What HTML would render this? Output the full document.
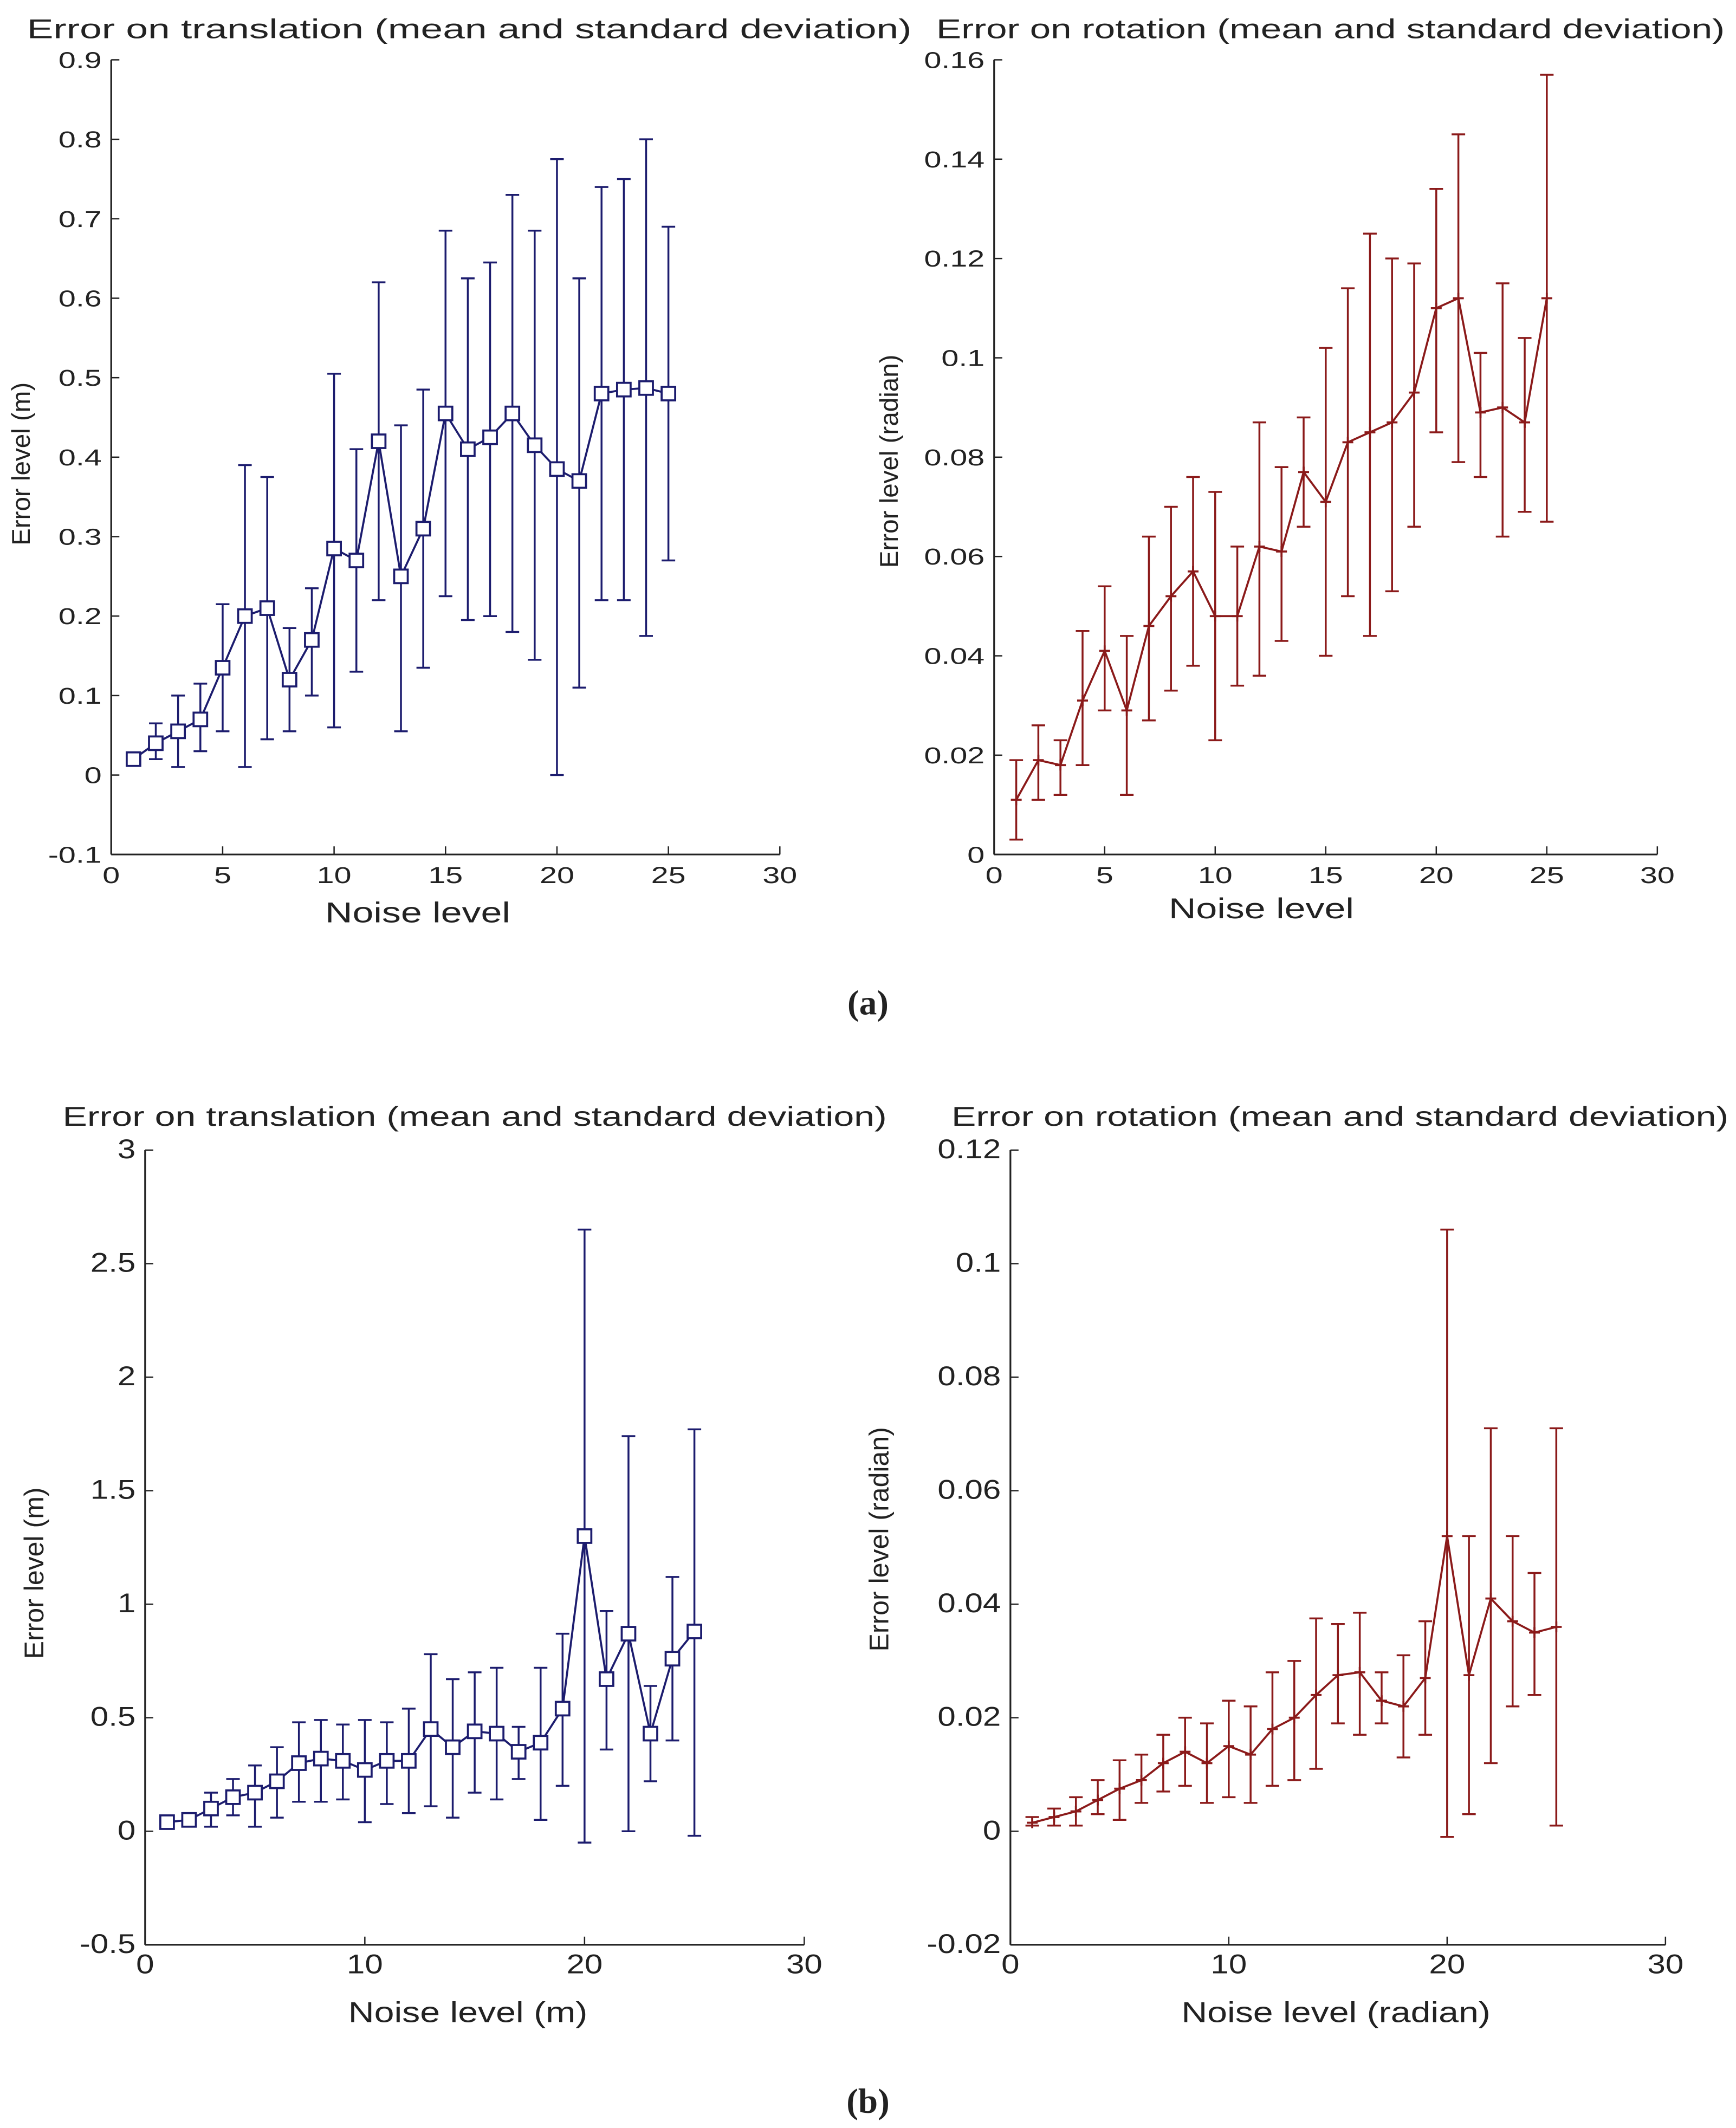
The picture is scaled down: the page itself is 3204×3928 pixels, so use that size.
<!DOCTYPE html>
<html><head><meta charset="utf-8">
<style>
html,body{margin:0;padding:0;background:#fff;}
svg{display:block;}
text{font-family:"Liberation Sans",sans-serif;fill:#222;}
</style></head>
<body>
<svg id="fig" width="3204" height="3928" viewBox="0 0 1280 1569" xmlns="http://www.w3.org/2000/svg">
<rect width="1280" height="1569" fill="#fff"/>
<text x="640" y="748" text-anchor="middle" font-size="26" font-weight="bold" style="font-family:'Liberation Serif',serif">(a)</text>
<text x="640" y="1558" text-anchor="middle" font-size="26" font-weight="bold" style="font-family:'Liberation Serif',serif">(b)</text>
</svg>
<script>
const noise = [1,2,3,4,5,6,7,8,9,10,11,12,13,14,15,16,17,18,19,20,21,22,23,24,25];

const tlMean = [0.02,0.04,0.055,0.07,0.135,0.2,0.21,0.12,0.17,0.285,0.27,0.42,0.25,0.31,0.455,0.41,0.425,0.455,0.415,0.385,0.37,0.48,0.485,0.487,0.48];
const tlUpper = [0.02,0.065,0.1,0.115,0.215,0.39,0.375,0.185,0.235,0.505,0.41,0.62,0.44,0.485,0.685,0.625,0.645,0.73,0.685,0.775,0.625,0.74,0.75,0.8,0.69];
const tlLower = [0.02,0.02,0.01,0.03,0.055,0.01,0.045,0.055,0.1,0.06,0.13,0.22,0.055,0.135,0.225,0.195,0.2,0.18,0.145,0.0,0.11,0.22,0.22,0.175,0.27];

const trMean = [0.011,0.019,0.018,0.031,0.041,0.029,0.046,0.052,0.057,0.048,0.048,0.062,0.061,0.077,0.071,0.083,0.085,0.087,0.093,0.11,0.112,0.089,0.09,0.087,0.112];
const trUpper = [0.019,0.026,0.023,0.045,0.054,0.044,0.064,0.07,0.076,0.073,0.062,0.087,0.078,0.088,0.102,0.114,0.125,0.12,0.119,0.134,0.145,0.101,0.115,0.104,0.157];
const trLower = [0.003,0.011,0.012,0.018,0.029,0.012,0.027,0.033,0.038,0.023,0.034,0.036,0.043,0.066,0.04,0.052,0.044,0.053,0.066,0.085,0.079,0.076,0.064,0.069,0.067];

const blMean = [0.04,0.05,0.1,0.15,0.17,0.22,0.3,0.32,0.31,0.27,0.31,0.31,0.45,0.37,0.44,0.43,0.35,0.39,0.54,1.3,0.67,0.87,0.43,0.76,0.88];
const blUpper = [0.04,0.07,0.17,0.23,0.29,0.37,0.48,0.49,0.47,0.49,0.48,0.54,0.78,0.67,0.7,0.72,0.46,0.72,0.87,2.65,0.97,1.74,0.64,1.12,1.77];
const blLower = [0.03,0.03,0.02,0.07,0.02,0.06,0.13,0.13,0.14,0.04,0.12,0.08,0.11,0.06,0.17,0.14,0.23,0.05,0.2,-0.05,0.36,0.0,0.22,0.4,-0.02];

const brMean = [0.0015,0.0025,0.0035,0.0055,0.0075,0.009,0.012,0.014,0.012,0.015,0.0135,0.018,0.02,0.024,0.0275,0.028,0.023,0.022,0.027,0.052,0.0275,0.041,0.037,0.035,0.036];
const brUpper = [0.0025,0.004,0.006,0.009,0.0125,0.0135,0.017,0.02,0.019,0.023,0.022,0.028,0.03,0.0375,0.0365,0.0385,0.028,0.031,0.037,0.106,0.052,0.071,0.052,0.0455,0.071];
const brLower = [0.001,0.001,0.001,0.003,0.002,0.005,0.007,0.008,0.005,0.006,0.005,0.008,0.009,0.011,0.019,0.017,0.019,0.013,0.017,-0.001,0.003,0.012,0.022,0.024,0.001];

const tlYTicks = ["-0.1","0","0.1","0.2","0.3","0.4","0.5","0.6","0.7","0.8","0.9"];
const trYTicks = ["0","0.02","0.04","0.06","0.08","0.1","0.12","0.14","0.16"];
const blYTicks = ["-0.5","0","0.5","1","1.5","2","2.5","3"];
const brYTicks = ["-0.02","0","0.02","0.04","0.06","0.08","0.1","0.12"];
const xTicksA = ["0","5","10","15","20","25","30"];
const xTicksB = ["0","10","20","30"];

const NS = "http://www.w3.org/2000/svg";
const svg = document.getElementById("fig");
function mk(tag, attrs, parent){
  const e = document.createElementNS(NS, tag);
  for (const k in attrs) e.setAttribute(k, attrs[k]);
  (parent||svg).appendChild(e);
  return e;
}
function txt(parent, x, y, s, anchor, fs, sx, rot){
  const t = mk("text", {x:0, y:0, "text-anchor":anchor, "font-size":fs,
    transform: rot ? `translate(${x},${y}) rotate(-90)` : `translate(${x},${y}) scale(${sx},1)`}, parent);
  t.textContent = s;
  return t;
}
function chart(o){
  const g = mk("g", {});
  
  
  const yv = o.yTicks.map(Number), xv = o.xTicks.map(Number);
  const ymin = yv[0], ymax = yv[yv.length-1], xmin = xv[0], xmax = xv[xv.length-1];
  const X = v => o.x0 + (v - xmin) / (xmax - xmin) * (o.x1 - o.x0);
  const Y = v => o.y0 - (v - ymin) / (ymax - ymin) * (o.y0 - o.y1);
  mk("line", {x1:o.x0, y1:o.y0, x2:o.x0, y2:o.y1, stroke:"#222", "stroke-width":1.3}, g);
  mk("line", {x1:o.x0, y1:o.y0, x2:o.x1, y2:o.y0, stroke:"#222", "stroke-width":1.3}, g);
  o.yTicks.forEach((t,i)=>{
    const y = Y(yv[i]);
    mk("line", {x1:o.x0, y1:y, x2:o.x0+6, y2:y, stroke:"#222", "stroke-width":1}, g);
    const tx = txt(g, o.x0-7, y+6, t, "end", o.fs, o.sx);
    
    
  });
  o.xTicks.forEach((t,i)=>{
    const x = X(xv[i]);
    mk("line", {x1:x, y1:o.y0, x2:x, y2:o.y0-6, stroke:"#222", "stroke-width":1}, g);
    const tx = txt(g, x, o.y0+21, t, "middle", o.fs, o.sx);
    
    
  });
  const ti = txt(g, o.tx, o.ty, o.title, "middle", o.tfs, o.tsx);
  
  
  const xl = txt(g, o.xlx, o.xly, o.xLabel, "middle", o.lfs, o.lsx);
  
  
  const yl = txt(g, o.ylx, o.yly, o.yLabel, "middle", o.ylfs, 1, true);
  
  
  noise.forEach((n,i)=>{
    const x = X(n);
    const eb = mk("g", {stroke:o.color, "stroke-width":1.4}, g);
    
    
    mk("line", {x1:x, y1:Y(o.upper[i]), x2:x, y2:Y(o.lower[i])}, eb);
    mk("line", {x1:x-5, y1:Y(o.upper[i]), x2:x+5, y2:Y(o.upper[i])}, eb);
    mk("line", {x1:x-5, y1:Y(o.lower[i]), x2:x+5, y2:Y(o.lower[i])}, eb);
  });
  const pts = noise.map((n,i)=>X(n)+","+Y(o.mean[i])).join(" ");
  const pl = mk("polyline", {points:pts, fill:"none", stroke:o.color, "stroke-width":1.5}, g);
  
  
  noise.forEach((n,i)=>{
    const x = X(n), y = Y(o.mean[i]);
    let m;
    if (o.marker === "square") {
      m = mk("rect", {x:x-5, y:y-5, width:10, height:10, fill:"#fff", stroke:o.color, "stroke-width":1.5}, g);
    } else {
      m = mk("path", {d:`M${x-4},${y}H${x+4}M${x},${y-4}V${y+4}`, stroke:o.color, "stroke-width":1.5}, g);
    }
    
    
  });
}
chart({name:"translation-chart-a", x0:82, x1:575, y0:630, y1:44, xTicks:xTicksA, yTicks:tlYTicks,
  mean:tlMean, upper:tlUpper, lower:tlLower, color:"#1c1c6e", marker:"square", fs:17, sx:1.35, tfs:20, tsx:1.46, lfs:21, lsx:1.33, ylfs:19,
  title:"Error on translation (mean and standard deviation)", tx:346, ty:28,
  xLabel:"Noise level", xlx:308, xly:680, yLabel:"Error level (m)", ylx:22, yly:342});
chart({name:"rotation-chart-a", x0:733, x1:1222, y0:630, y1:44, xTicks:xTicksA, yTicks:trYTicks,
  mean:trMean, upper:trUpper, lower:trLower, color:"#8b1a1a", marker:"plus", fs:17, sx:1.35, tfs:20, tsx:1.38, lfs:21, lsx:1.33, ylfs:19,
  title:"Error on rotation (mean and standard deviation)", tx:981, ty:28,
  xLabel:"Noise level", xlx:930, xly:677, yLabel:"Error level (radian)", ylx:662, yly:340});
chart({name:"translation-chart-b", x0:107, x1:593, y0:1434, y1:848, xTicks:xTicksB, yTicks:blYTicks,
  mean:blMean, upper:blUpper, lower:blLower, color:"#1c1c6e", marker:"square", fs:20, sx:1.2, tfs:20, tsx:1.36, lfs:21, lsx:1.26, ylfs:20,
  title:"Error on translation (mean and standard deviation)", tx:350, ty:830,
  xLabel:"Noise level (m)", xlx:345, xly:1491, yLabel:"Error level (m)", ylx:32, yly:1160});
chart({name:"rotation-chart-b", x0:745, x1:1228, y0:1434, y1:848, xTicks:xTicksB, yTicks:brYTicks,
  mean:brMean, upper:brUpper, lower:brLower, color:"#8b1a1a", marker:"plus", fs:20, sx:1.2, tfs:20, tsx:1.36, lfs:21, lsx:1.26, ylfs:20,
  title:"Error on rotation (mean and standard deviation)", tx:988, ty:830,
  xLabel:"Noise level (radian)", xlx:985, xly:1491, yLabel:"Error level (radian)", ylx:655, yly:1135});
</script>
</body></html>
